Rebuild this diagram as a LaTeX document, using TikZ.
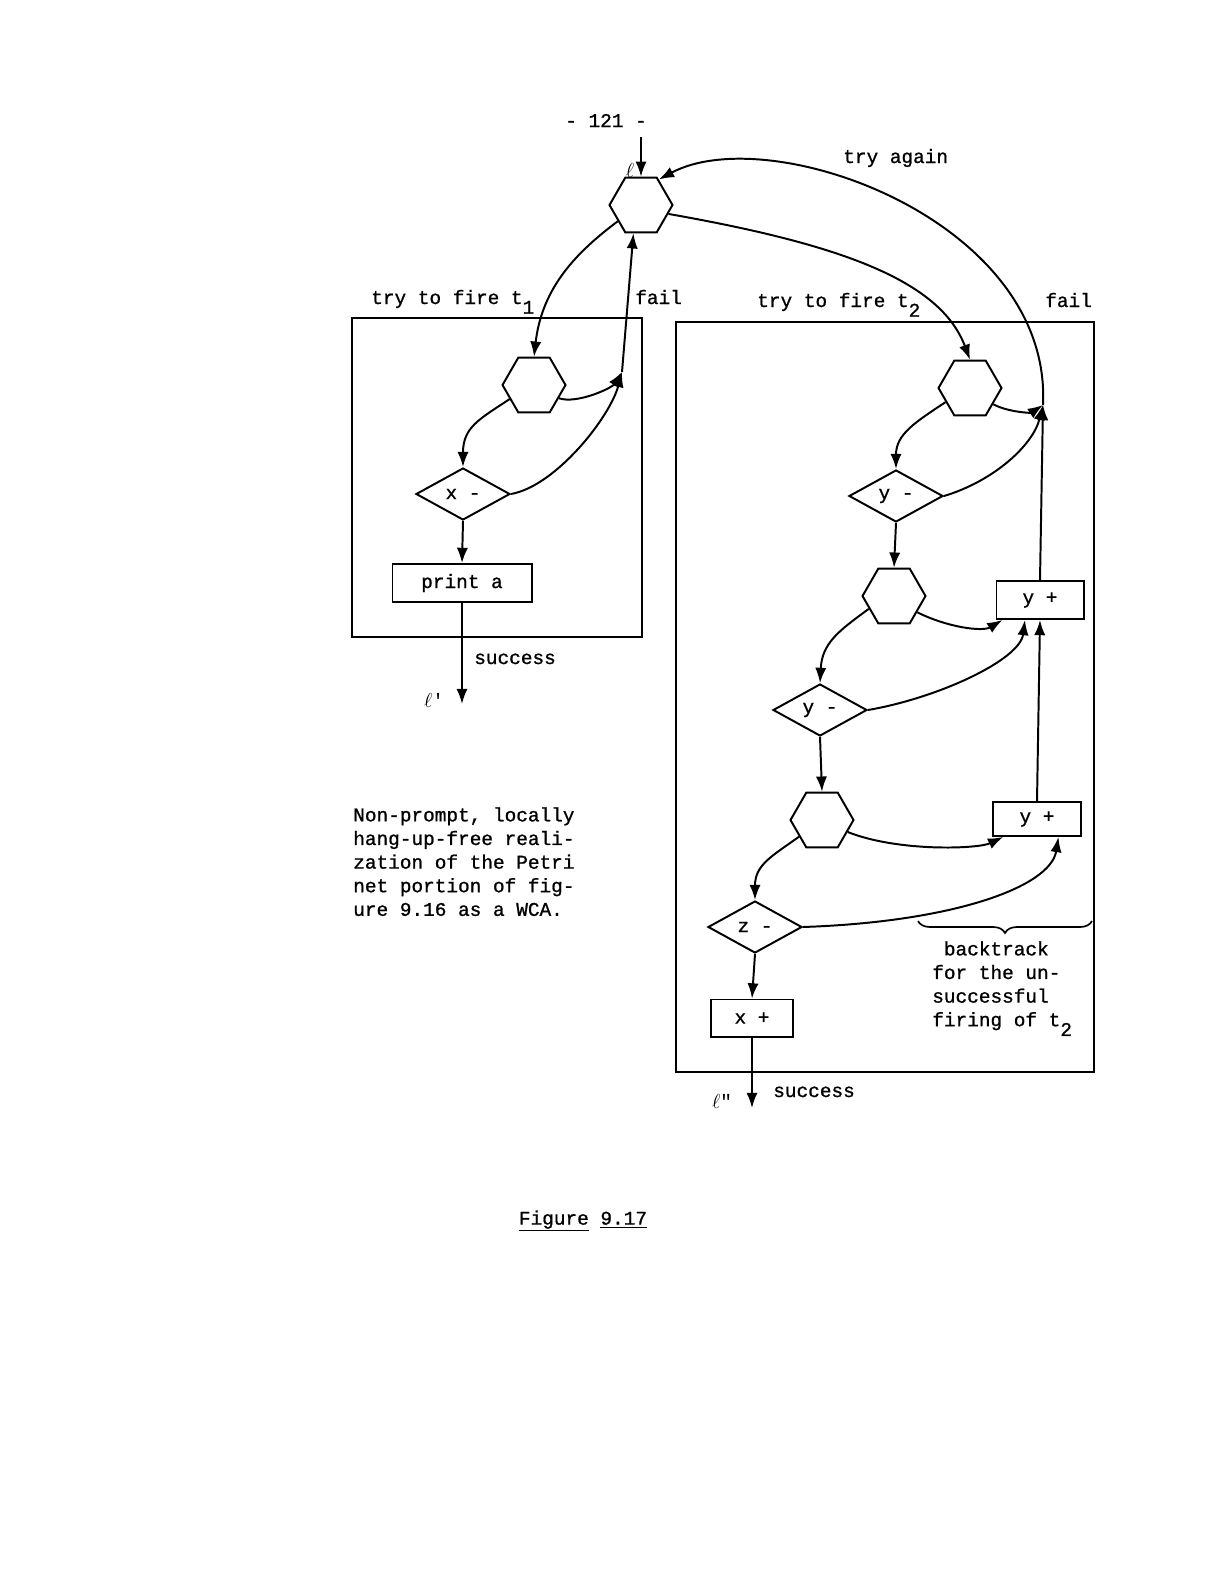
\documentclass[tikz,border=0pt]{standalone}
\usepackage{fontspec}
\setmainfont{Liberation Mono}[FakeBold=1]
\newfontfamily\plainmono{Liberation Mono}
\usetikzlibrary{arrows.meta,positioning,shapes.geometric,decorations.pathreplacing}

\newcommand{\lowsub}[1]{\raisebox{-0.5em}{#1}}

\begin{document}
\begin{tikzpicture}[
  x=0.025cm, y=-0.025cm,
  font=\fontsize{13.8}{16.8}\selectfont,
  hexa/.style={
    draw, regular polygon, regular polygon sides=6,
    minimum size=1.575cm, inner sep=0pt, line width=1.4pt
  },
  cond/.style={
    draw, diamond, aspect=1.8, minimum width=2.35cm,
    minimum height=1.3cm, inner sep=0pt, line width=1.4pt
  },
  act/.style={
    draw, minimum height=0.95cm, inner sep=2pt, line width=1.4pt
  },
  frame/.style={draw, line width=1.1pt},
  arr/.style={-{Latex[length=3.8mm,width=2.8mm]}, line width=1.4pt},
  lbl/.style={anchor=base west, inner sep=0pt}
]
\useasboundingbox (0,0) rectangle (1205,1584);

% Frames
\draw[frame] (352,318) rectangle (642,637);
\draw[frame] (676,322) rectangle (1094,1072);

% Entry
\node[hexa] (top) at (641,205) {};
\coordinate (lin) at (641,137);

% Try to fire t1
\node[hexa] (lh) at (534,385) {};
\node[cond] (xd) at (463,494) {x -};
\node[act, minimum width=3.475cm] (pa) at (462,583) {print a};
\coordinate (jl) at (622,372);
\coordinate (lout) at (462,704);

% Try to fire t2
\node[hexa] (rh) at (970,388) {};
\node[cond] (yda) at (896,496) {y -};
\node[hexa] (hb) at (894,596) {};
\node[act, minimum width=2.175cm] (ypa) at (1040,600) {y +};
\node[cond] (ydb) at (820,710) {y -};
\node[hexa] (hc) at (822,820) {};
\node[act, minimum width=2.2cm, minimum height=0.85cm] (ypb) at (1037,819) {y +};
\node[cond] (zd) at (755,927) {z -};
\node[act, minimum width=2.05cm, minimum height=0.925cm] (xp) at (752,1018) {x +};
\coordinate (jr) at (1043,405);
\coordinate (rout) at (752,1108);

% Left arrows
\draw[arr] (lin) -- (top.north);
\draw[arr] (top.-145) .. controls +(-40,30) and +(8,-70) .. (lh.north);
\draw[arr] (jl) -- (top.-105);
\draw[arr] (lh.-28) .. controls +(18,6) and +(-10,16) .. (jl);
\draw[arr] (xd.east) .. controls +(45,-8) and +(-12,45) .. (jl);
\draw[arr] (lh.-150) .. controls +(-30,20) and +(0,-40) .. (xd.north);
\draw[arr] (xd.south) -- (pa.north);
\draw[arr] (pa.south) -- (lout);

% Right arrows
\draw[arr] (top.-18) .. controls +(170,30) and +(-30,-80) .. (rh.north);
\draw[arr] (jr) .. controls (1052,220) and (770,120) .. (top.55);
\draw[arr] (rh.-35) .. controls +(15,8) and +(-12,8) .. (jr);
\draw[arr] (yda.east) .. controls +(50,-15) and +(-10,40) .. (jr);
\draw[arr] (ypa.north) -- (jr);
\draw[arr] (rh.-150) .. controls +(-30,20) and +(0,-35) .. (yda.north);
\draw[arr] (yda.south) -- (hb.north);
\draw[arr] (hb.-35) .. controls +(30,15) and +(-20,12) .. (ypa.-152);
\draw[arr] (ydb.east) .. controls +(70,-12) and +(-5,40) .. (ypa.-127);
\draw[arr] (ypb.north) -- (ypa.south);
\draw[arr] (hb.-153) .. controls +(-30,22) and +(2,-40) .. (ydb.north);
\draw[arr] (ydb.south) -- (hc.north);
\draw[arr] (hc.-25) .. controls +(50,20) and +(-25,12) .. (ypb.-152);
\draw[arr] (zd.east) .. controls +(150,-5) and +(-8,50) .. (ypb.-40);
\draw[arr] (hc.-144) .. controls +(-28,20) and +(0,-35) .. (zd.north);
\draw[arr] (zd.south) -- (xp.north);
\draw[arr] (xp.south) -- (rout);

% Brace
\coordinate (bl) at (918,921);
\coordinate (br) at (1092,921);
\draw[decorate, decoration={brace, amplitude=0.3cm, mirror}, line width=1.2pt] (bl) -- (br);

% Labels
\node[lbl] (pg) at (565,127) {- 121 -};
\node (ltop) at (630,170) {$\ell$};
\node[lbl] (tfa) at (371,304) {try to fire t\lowsub{1}};
\node[lbl] (fla) at (635,304) {fail};
\node[lbl] (tfb) at (757,307) {try to fire t\lowsub{2}};
\node[lbl] (flb) at (1045,307) {fail};
\node[lbl] (tag) at (843,163) {try again};
\node[lbl] (sca) at (474,664) {success};
\node (lpa) at (434,700) {$\ell${\plainmono '}};
\node[lbl] (scb) at (773,1097) {success};
\node (lpb) at (722,1101) {$\ell${\plainmono "}};
\node[anchor=north west, align=left, inner sep=0pt] (bt) at (932,941)
  {\hspace{0.6em}backtrack\\for the un-\\successful\\firing of t\lowsub{2}};
\node[anchor=north west, align=left, inner sep=0pt] (cap) at (353,807)
  {Non-prompt, locally\\hang-up-free reali-\\zation of the Petri\\net portion of fig-\\ure 9.16 as a WCA.};
\node (fig) at (583,1221) {\underline{Figure} \underline{9.17}};

\end{tikzpicture}
\end{document}
